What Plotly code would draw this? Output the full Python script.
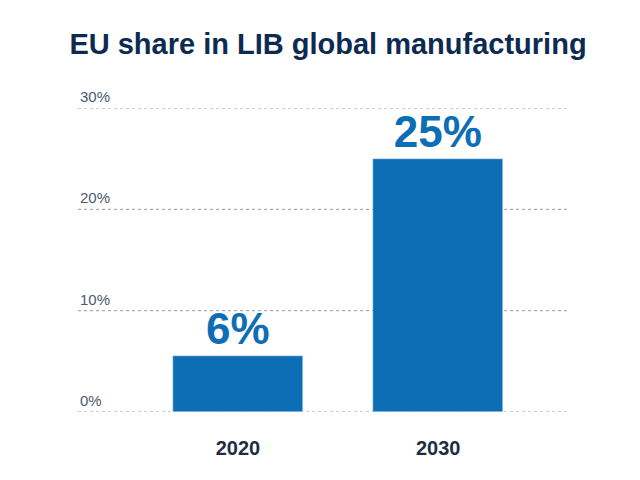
import plotly.graph_objects as go

years = ["2020", "2030"]
shares = [5.5, 25]
labels = ["6%", "25%"]
yticks = [0, 10, 20, 30]
ytick_labels = ["0%", "10%", "20%", "30%"]

blue = "#0e6eb5"
navy = "#0d2b52"

fig = go.Figure(go.Bar(x=[0, 1], y=shares, width=0.649, marker_color=blue,
                       text=labels, textposition="outside", cliponaxis=False,
                       textfont=dict(size=44, color=blue, family="Liberation Sans, Arial", weight="bold")))

for v, t in zip(yticks, ytick_labels):
    fig.add_shape(type="line", xref="paper", x0=0, x1=1, yref="y", y0=v, y1=v,
                  line=dict(color="#999999", width=1, dash="dot"), layer="below")
    fig.add_annotation(x=0, xref="paper", y=v, yref="y", text=t, showarrow=False,
                       xanchor="left", yanchor="bottom", yshift=1,
                       font=dict(size=15, color="#4a5a70", family="Liberation Sans, Arial"))

fig.update_layout(
    width=640, height=480,
    margin=dict(l=70, r=78, t=100, b=76),
    plot_bgcolor="white", paper_bgcolor="white",
    title=dict(text="<b>EU share in LIB global manufacturing</b>", x=0.5, xanchor="center",
               y=0.925, yanchor="middle",
               font=dict(size=29, color=navy, family="Liberation Sans, Arial")),
    showlegend=False,
    bargap=0,
)
fig.update_xaxes(range=[-0.799, 1.658], tickvals=[0, 1], ticktext=years, showgrid=False,
                 zeroline=False, showline=False, ticks="", ticklabelstandoff=22,
                 tickfont=dict(size=20, color="#1f2d44", family="Liberation Sans, Arial", weight="bold"))
fig.update_yaxes(range=[0, 30], showticklabels=False, showgrid=False, zeroline=False)
fig.write_html("out.html")
